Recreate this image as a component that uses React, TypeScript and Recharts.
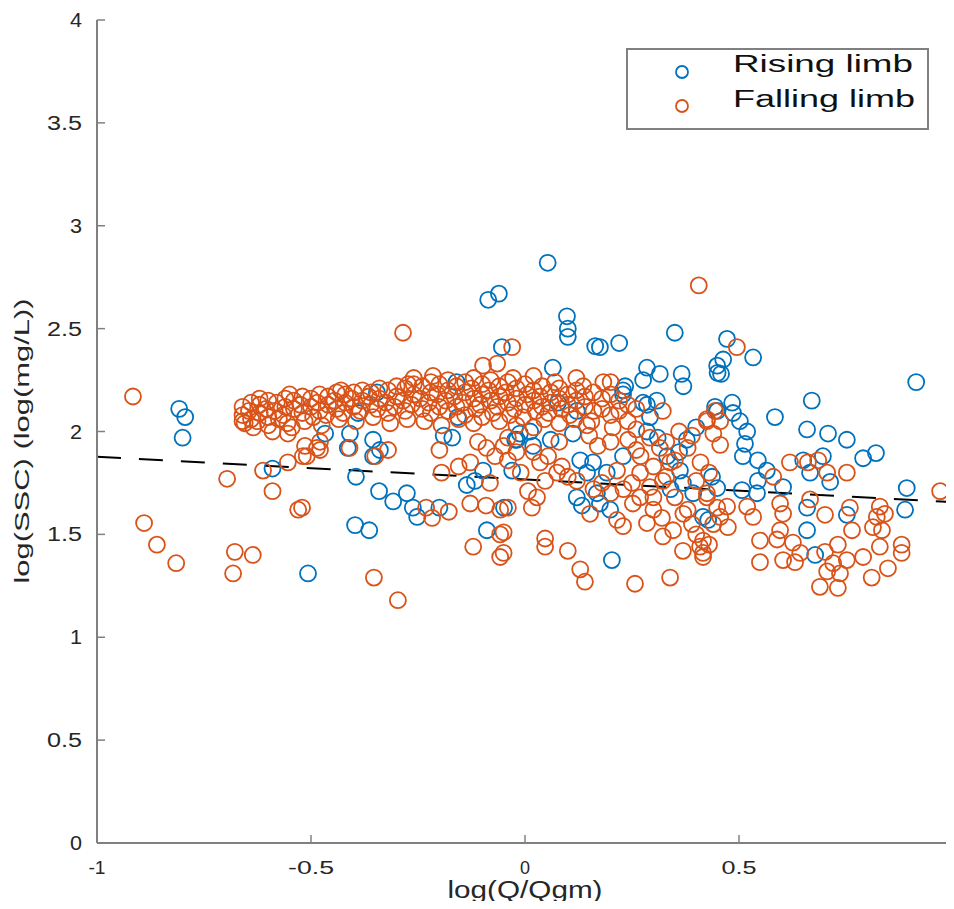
import React from "react";
import { ScatterChart, Scatter, XAxis, YAxis, ReferenceLine, Legend } from "recharts";

const xTicks = [-1, -0.5, 0, 0.5, 1];
const yTicks = [0, 0.5, 1, 1.5, 2, 2.5, 3, 3.5, 4];
const seriesNames = ["Rising limb", "Falling limb"];

// fitted line end points, log(Q/Qgm) -> log(SSC)
const trendX = [-1, 1];
const trendY = [1.877, 1.657];

// [log(Q/Qgm), log(SSC)]
const rising: [number, number][] = [
  [-0.808, 2.11], [-0.794, 2.07], [-0.8, 1.97], [-0.59, 1.82], [-0.507, 1.31],
  [-0.086, 2.64], [-0.061, 2.67], [-0.054, 2.41], [-0.16, 2.24],
  [-0.467, 1.99], [-0.409, 1.99], [-0.339, 1.91], [-0.19, 1.98], [-0.17, 1.97],
  [-0.136, 1.74], [-0.117, 1.76], [-0.098, 1.81], [-0.023, 1.96],
  [-0.395, 1.78], [-0.341, 1.71], [-0.308, 1.66], [-0.276, 1.7], [-0.262, 1.63],
  [-0.252, 1.585], [-0.2, 1.63], [-0.049, 1.63], [-0.089, 1.52], [-0.397, 1.545],
  [-0.364, 1.52], [-0.414, 1.92], [-0.355, 1.96], [-0.355, 1.88], [-0.346, 2.19],
  [-0.39, 2.09], [-0.157, 2.07], [-0.012, 1.99],
  [0.053, 2.82], [0.098, 2.56], [0.1, 2.5], [0.1, 2.46], [0.35, 2.48], [0.164, 2.415],
  [0.175, 2.41], [0.22, 2.43], [0.065, 2.31], [0.285, 2.31], [0.315, 2.28], [0.366, 2.28],
  [0.37, 2.22], [0.276, 2.25], [0.449, 2.32], [0.45, 2.285], [0.234, 2.22], [0.229, 2.18],
  [0.285, 2.13], [0.308, 2.15], [0.449, 2.1], [0.4, 2.02], [0.378, 1.96], [0.012, 2.0],
  [-0.019, 1.96], [0.019, 1.93], [-0.03, 1.81], [0.129, 1.86], [0.145, 1.8], [0.121, 1.68],
  [0.133, 1.64], [0.168, 1.7], [0.191, 1.8], [0.229, 1.88], [0.332, 1.88], [0.362, 1.81],
  [0.369, 1.75], [0.393, 1.7], [0.416, 1.585], [0.175, 1.65], [0.199, 1.62], [0.203, 1.375],
  [0.229, 2.2], [0.077, 2.14], [0.121, 2.1], [0.292, 2.07], [0.276, 2.14], [0.159, 1.85],
  [0.285, 2.0], [0.31, 1.97], [0.112, 1.99], [0.06, 1.96], [0.36, 1.9], [0.34, 1.72],
  [0.472, 2.45], [0.463, 2.35], [0.533, 2.36], [0.458, 2.28], [0.914, 2.24], [0.67, 2.15],
  [0.484, 2.14], [0.444, 2.12], [0.486, 2.09], [0.584, 2.07], [0.502, 2.05], [0.659, 2.01],
  [0.708, 1.99], [0.752, 1.96], [0.519, 2.0], [0.514, 1.94], [0.509, 1.88], [0.544, 1.86],
  [0.79, 1.87], [0.82, 1.895], [0.696, 1.88], [0.65, 1.86], [0.713, 1.755], [0.666, 1.8],
  [0.565, 1.81], [0.544, 1.76], [0.603, 1.73], [0.437, 1.78], [0.507, 1.715], [0.542, 1.7],
  [0.449, 1.725], [0.892, 1.725], [0.888, 1.62], [0.752, 1.595], [0.659, 1.63], [0.428, 1.57],
  [0.659, 1.52], [0.678, 1.4],
];

const falling: [number, number][] = [
  // scattered points
  [-0.916, 2.17], [-0.696, 1.77], [-0.612, 1.81], [-0.554, 1.85], [-0.519, 1.88], [-0.59, 1.71],
  [-0.53, 1.62], [-0.89, 1.555], [-0.86, 1.45], [-0.815, 1.36], [-0.678, 1.415], [-0.636, 1.4],
  [-0.682, 1.31], [-0.285, 2.48], [-0.03, 2.41], [-0.098, 2.32], [-0.065, 2.33], [-0.215, 2.27],
  [-0.273, 2.23], [-0.028, 2.26], [-0.51, 1.88], [-0.479, 1.91], [-0.41, 1.92], [-0.35, 1.88],
  [-0.32, 1.91], [-0.2, 1.91], [-0.195, 1.8], [-0.155, 1.83], [-0.128, 1.85], [-0.082, 1.75],
  [-0.231, 1.63], [-0.217, 1.58], [-0.178, 1.61], [-0.128, 1.65], [-0.091, 1.64], [-0.058, 1.62],
  [-0.058, 1.5], [-0.121, 1.44], [-0.058, 1.39], [-0.521, 1.63], [-0.353, 1.29], [-0.297, 1.18],
  [-0.66, 2.05], [-0.59, 2.0], [-0.554, 1.99], [-0.514, 1.93], [-0.479, 1.95], [-0.486, 1.92],
  [-0.09, 1.92], [-0.07, 1.88], [-0.11, 1.95], [-0.02, 1.9], [-0.04, 1.97],
  [0.406, 2.71], [0.07, 2.24], [0.183, 2.24], [0.136, 2.22], [0.322, 2.1], [0.425, 2.06],
  [0.44, 1.99], [-0.05, 1.93], [-0.04, 1.86], [-0.01, 1.8], [0.054, 1.88], [0.086, 1.83],
  [0.121, 1.76], [0.047, 1.76], [0.007, 1.71], [0.028, 1.68], [0.016, 1.63], [0.215, 1.81],
  [0.241, 1.96], [0.26, 1.91], [0.292, 1.97], [0.315, 1.92], [0.339, 1.85], [0.269, 1.8],
  [0.292, 1.73], [0.322, 1.76], [0.425, 1.7], [0.449, 1.63], [0.252, 1.65], [0.269, 1.68],
  [0.215, 1.57], [0.229, 1.54], [0.152, 1.6], [0.285, 1.555], [0.322, 1.49], [0.346, 1.52],
  [0.369, 1.42], [0.409, 1.44], [0.416, 1.39], [-0.04, 1.63], [-0.05, 1.51], [-0.05, 1.41],
  [0.047, 1.48], [0.047, 1.44], [0.1, 1.42], [0.129, 1.33], [0.14, 1.27], [0.257, 1.26],
  [0.339, 1.29],
  [0.02, 1.9], [0.035, 1.85], [0.075, 1.8], [0.1, 1.78], [0.16, 1.72], [0.18, 1.75], [0.2, 1.7],
  [0.23, 1.72], [0.25, 1.75], [0.3, 1.83], [0.33, 1.78], [0.35, 1.68], [0.38, 1.62], [0.39, 1.55],
  [0.4, 1.5], [0.37, 1.6], [0.3, 1.62], [0.32, 1.58], [0.43, 1.45], [0.44, 1.55], [0.27, 1.88],
  [0.2, 1.95], [0.17, 1.93], [0.15, 1.98], [0.08, 1.95], [0.33, 1.95], [0.36, 2.0], [0.38, 1.92],
  [0.41, 1.85], [0.43, 1.8], [0.4, 1.76], [0.39, 1.98], [0.35, 1.86], [0.3, 1.68],
  [0.495, 2.41], [0.444, 2.1], [0.425, 2.05], [0.456, 2.05], [0.456, 1.935], [0.619, 1.85],
  [0.661, 1.85], [0.685, 1.86], [0.706, 1.8], [0.752, 1.8], [0.58, 1.78], [0.425, 1.68],
  [0.97, 1.71], [0.759, 1.63], [0.829, 1.635], [0.822, 1.585], [0.813, 1.535], [0.834, 1.52],
  [0.701, 1.595], [0.666, 1.67], [0.596, 1.65], [0.603, 1.6], [0.519, 1.635], [0.533, 1.585],
  [0.472, 1.635], [0.456, 1.585], [0.474, 1.535], [0.416, 1.47], [0.416, 1.41], [0.596, 1.52],
  [0.549, 1.47], [0.589, 1.475], [0.626, 1.46], [0.643, 1.41], [0.603, 1.375], [0.631, 1.365],
  [0.549, 1.365], [0.701, 1.415], [0.731, 1.45], [0.752, 1.375], [0.72, 1.36], [0.706, 1.32],
  [0.736, 1.31], [0.689, 1.245], [0.731, 1.24], [0.79, 1.39], [0.81, 1.29], [0.848, 1.335],
  [0.829, 1.44], [0.88, 1.45], [0.88, 1.41], [0.764, 1.52], [0.841, 1.6],
  // dense band
  [-0.66, 2.12], [-0.66, 2.08], [-0.655, 2.04], [-0.64, 2.14], [-0.645, 2.1], [-0.64, 2.06],
  [-0.635, 2.02], [-0.62, 2.13], [-0.62, 2.09], [-0.625, 2.05], [-0.6, 2.15], [-0.605, 2.11],
  [-0.6, 2.07], [-0.6, 2.03], [-0.58, 2.14], [-0.585, 2.1], [-0.575, 2.06], [-0.56, 2.16],
  [-0.56, 2.12], [-0.565, 2.08], [-0.555, 2.04], [-0.54, 2.15], [-0.54, 2.11], [-0.545, 2.02],
  [-0.52, 2.17], [-0.525, 2.13], [-0.52, 2.09], [-0.515, 2.05], [-0.5, 2.16], [-0.5, 2.12],
  [-0.495, 2.07], [-0.48, 2.18], [-0.485, 2.14], [-0.48, 2.1], [-0.475, 2.03], [-0.46, 2.17],
  [-0.46, 2.13], [-0.465, 2.08], [-0.44, 2.19], [-0.445, 2.15], [-0.44, 2.11], [-0.435, 2.06],
  [-0.42, 2.18], [-0.42, 2.14], [-0.425, 2.09], [-0.4, 2.19], [-0.405, 2.16], [-0.4, 2.12],
  [-0.395, 2.05], [-0.38, 2.2], [-0.38, 2.15], [-0.385, 2.1], [-0.36, 2.19], [-0.365, 2.17],
  [-0.36, 2.13], [-0.355, 2.07], [-0.34, 2.21], [-0.34, 2.16], [-0.345, 2.11], [-0.32, 2.2],
  [-0.325, 2.14], [-0.32, 2.09], [-0.315, 2.04], [-0.3, 2.22], [-0.3, 2.17], [-0.305, 2.12],
  [-0.28, 2.21], [-0.285, 2.15], [-0.28, 2.1], [-0.275, 2.06], [-0.26, 2.23], [-0.26, 2.18],
  [-0.265, 2.13], [-0.24, 2.22], [-0.245, 2.16], [-0.24, 2.11], [-0.235, 2.05], [-0.22, 2.24],
  [-0.22, 2.19], [-0.225, 2.14], [-0.22, 2.09], [-0.2, 2.23], [-0.205, 2.18], [-0.2, 2.12],
  [-0.195, 2.03], [-0.18, 2.25], [-0.18, 2.2], [-0.185, 2.15], [-0.18, 2.1], [-0.16, 2.22],
  [-0.165, 2.17], [-0.16, 2.12], [-0.155, 2.06], [-0.14, 2.24], [-0.14, 2.19], [-0.145, 2.14],
  [-0.14, 2.08], [-0.12, 2.26], [-0.125, 2.21], [-0.12, 2.16], [-0.115, 2.11], [-0.12, 2.04],
  [-0.1, 2.23], [-0.1, 2.18], [-0.105, 2.13], [-0.1, 2.07], [-0.08, 2.25], [-0.085, 2.2],
  [-0.08, 2.15], [-0.075, 2.09], [-0.06, 2.22], [-0.06, 2.17], [-0.065, 2.12], [-0.06, 2.05],
  [-0.04, 2.24], [-0.045, 2.19], [-0.04, 2.14], [-0.035, 2.08], [-0.02, 2.21], [-0.02, 2.16],
  [-0.025, 2.11], [-0.02, 2.03], [0.0, 2.23], [0.005, 2.18], [0.0, 2.13], [-0.005, 2.07],
  [0.02, 2.2], [0.02, 2.15], [0.025, 2.1], [0.02, 2.02], [0.04, 2.22], [0.035, 2.17],
  [0.04, 2.12], [0.045, 2.06], [0.06, 2.19], [0.06, 2.14], [0.055, 2.09], [0.08, 2.21],
  [0.08, 2.16], [0.085, 2.11], [0.08, 2.04], [0.1, 2.18], [0.1, 2.13], [0.105, 2.08],
  [0.12, 2.2], [0.12, 2.15], [0.115, 2.06], [0.14, 2.17], [0.14, 2.12], [0.145, 2.03],
  [0.16, 2.19], [0.16, 2.1], [0.155, 2.05], [0.18, 2.16], [0.18, 2.11], [0.2, 2.18],
  [0.2, 2.08], [0.205, 2.02], [0.22, 2.15], [0.22, 2.1], [0.24, 2.13], [0.24, 2.05],
  [0.26, 2.11], [0.26, 2.01], [0.02, 2.27], [0.12, 2.26], [0.2, 2.24], [-0.26, 2.26],
  [-0.43, 2.2], [-0.55, 2.18], [-0.62, 2.16],
];

const risingData = rising.map(([x, y]) => ({ x, y }));
const fallingData = falling.map(([x, y]) => ({ x, y }));
const trendSegment = trendX.map((x, i) => ({ x, y: trendY[i] }));

const BLUE = "#0072BD";
const ORANGE = "#D95319";
const AXIS = "#808080";
const INK = "#262626";
const FONT = "'Liberation Sans', Arial, Helvetica, sans-serif";

const ring = (color: string) => (props: any) => (
  <circle cx={props.cx} cy={props.cy} r={8} fill="none" stroke={color} strokeWidth={1.8} />
);

function XTick({ x, y, payload }: any) {
  const label = String(payload.value);
  const w = label.length === 1 ? 10 : label.length === 2 ? 17 : label.length === 3 ? 35 : 46;
  return (
    <g>
      <line x1={x} y1={y} x2={x} y2={y - 8} stroke={AXIS} strokeWidth={1.5} />
      <text x={x} y={y + 31} textAnchor="middle" fontSize={19} fontFamily={FONT} fill={INK}
        textLength={w} lengthAdjust="spacingAndGlyphs">{label}</text>
    </g>
  );
}

function YTick({ x, y, payload }: any) {
  const label = String(payload.value);
  const w = label.length === 1 ? 12 : 35;
  return (
    <g>
      <line x1={x} y1={y} x2={x + 8} y2={y} stroke={AXIS} strokeWidth={1.5} />
      <text x={x - 15} y={y + 7} textAnchor="end" fontSize={20} fontFamily={FONT} fill={INK}
        textLength={w} lengthAdjust="spacingAndGlyphs">{label}</text>
    </g>
  );
}

const XLabel = () => (
  <text x={517} y={890} textAnchor="middle" fontSize={23} fontFamily={FONT} fill={INK}
    textLength={155} lengthAdjust="spacingAndGlyphs">log(Q/Qgm)</text>
);

const YLabel = () => (
  <text transform="translate(21,433) rotate(-90)" textAnchor="middle" fontSize={21} fontFamily={FONT}
    fill={INK} textLength={285} lengthAdjust="spacingAndGlyphs">log(SSC) (log(mg/L))</text>
);

function LegendBox() {
  return (
    <svg width={303} height={82} style={{ display: "block" }}>
      <rect x={1} y={1} width={301} height={80} fill="#fff" stroke={AXIS} strokeWidth={2} />
      <circle cx={56} cy={24} r={6} fill="none" stroke={BLUE} strokeWidth={1.8} />
      <text x={107} y={24} fontSize={23} fontFamily={FONT} fill="#111" textLength={180}
        lengthAdjust="spacingAndGlyphs">{seriesNames[0]}</text>
      <circle cx={56} cy={58} r={6} fill="none" stroke={ORANGE} strokeWidth={1.8} />
      <text x={107} y={59} fontSize={23} fontFamily={FONT} fill="#111" textLength={182}
        lengthAdjust="spacingAndGlyphs">{seriesNames[1]}</text>
    </svg>
  );
}

export default function App() {
  return (
    <div style={{ width: 946, height: 893 }}>
      <ScatterChart width={946} height={901} margin={{ top: 12, right: 1, left: 0, bottom: 0 }}>
        <XAxis type="number" dataKey="x" domain={[-1, 1]} ticks={xTicks} interval={0}
          tickSize={0} tickMargin={0} height={66} tick={<XTick />}
          axisLine={{ stroke: AXIS, strokeWidth: 2 }} label={<XLabel />} />
        <YAxis type="number" dataKey="y" domain={[0, 4]} ticks={yTicks} interval={0}
          tickSize={0} tickMargin={0} width={89} tick={<YTick />}
          axisLine={{ stroke: AXIS, strokeWidth: 2 }} label={<YLabel />} />
        <Legend layout="horizontal" verticalAlign="middle" align="center"
          wrapperStyle={{ left: 618, top: 40, width: 303, height: 82 }} content={() => <LegendBox />} />
        <Scatter name={seriesNames[0]} data={risingData} shape={ring(BLUE)} isAnimationActive={false} />
        <Scatter name={seriesNames[1]} data={fallingData} shape={ring(ORANGE)} isAnimationActive={false} />
        <ReferenceLine segment={trendSegment} stroke="#000" strokeWidth={2} strokeDasharray="24 18" />
      </ScatterChart>
    </div>
  );
}
